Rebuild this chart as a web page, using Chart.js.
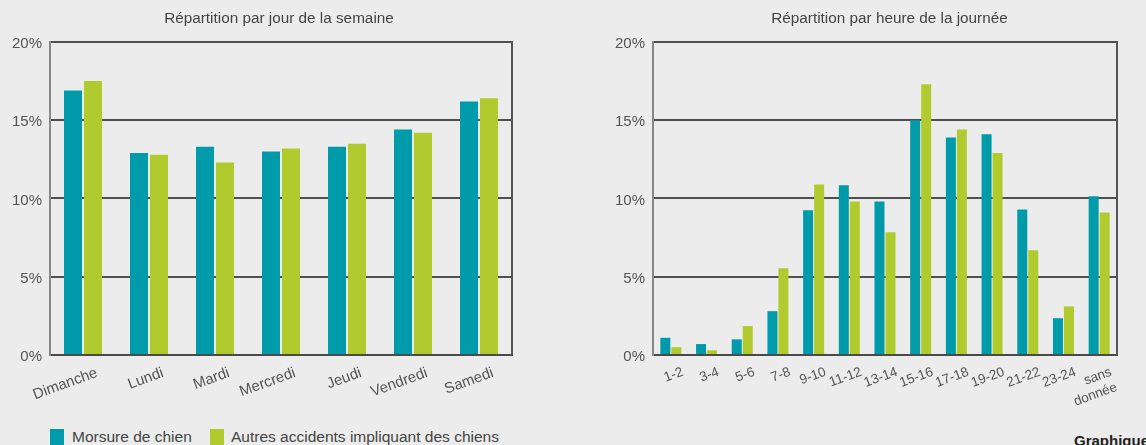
<!DOCTYPE html>
<html>
<head>
<meta charset="utf-8">
<script src="https://cdn.jsdelivr.net/npm/chart.js@4/dist/chart.umd.min.js"></script>
<style>
  html, body { margin: 0; padding: 0; }
  body {
    width: 1146px; height: 445px; overflow: hidden; position: relative;
    background: #ebeceb; font-family: "Liberation Sans", Arial, sans-serif;
  }
  canvas { position: absolute; top: 0; }
  #jours { left: 0px; }
  #heures { left: 600px; }
  .legend { position: absolute; top: 428px; font-size: 15.5px; color: #444; line-height: 18px; white-space: nowrap; }
  .box { position: absolute; top: 429px; width: 14px; height: 16px; }
  #graphique { position: absolute; left: 1074px; top: 432px; font-size: 15px; font-weight: bold; color: #222; white-space: nowrap; }
</style>
</head>
<body>
<canvas id="jours" width="558" height="420"></canvas>
<canvas id="heures" width="579" height="420"></canvas>

<div class="box" style="left:50px; background:#009bab"></div>
<div class="legend" style="left:72px">Morsure de chien</div>
<div class="box" style="left:210px; background:#b1cb2f"></div>
<div class="legend" style="left:231px">Autres accidents impliquant des chiens</div>
<div id="graphique">Graphique</div>

<script>
const TEAL = '#009bab';
const GREEN = '#b1cb2f';
const FONT = "'Liberation Sans', Arial, sans-serif";

// values in %
const jours = ['Dimanche', 'Lundi', 'Mardi', 'Mercredi', 'Jeudi', 'Vendredi', 'Samedi'];
const joursMorsure = [16.9, 12.9, 13.3, 13.0, 13.3, 14.4, 16.2];
const joursAutres = [17.5, 12.8, 12.3, 13.2, 13.5, 14.2, 16.4];

const heures = ['1-2', '3-4', '5-6', '7-8', '9-10', '11-12', '13-14', '15-16',
                '17-18', '19-20', '21-22', '23-24', ['sans', 'donnée']];
const heuresMorsure = [1.1, 0.7, 1.0, 2.8, 9.25, 10.85, 9.8, 15.0, 13.9, 14.1, 9.3, 2.35, 10.15];
const heuresAutres = [0.5, 0.3, 1.85, 5.55, 10.9, 9.8, 7.85, 17.3, 14.4, 12.9, 6.7, 3.1, 9.1];

const yTicks = [0, 5, 10, 15, 20];

function makeChart(canvasId, title, labels, morsure, autres, opts)
{
  return new Chart(document.getElementById(canvasId), {
    type: 'bar',
    data: {
      labels: labels,
      datasets: [
        { label: 'Morsure de chien', data: morsure, backgroundColor: TEAL, yAxisID: 'y',
          categoryPercentage: opts.catPct, barPercentage: opts.barPct },
        { label: 'Autres accidents impliquant des chiens', data: autres, backgroundColor: GREEN, yAxisID: 'y',
          categoryPercentage: opts.catPct, barPercentage: opts.barPct }
      ]
    },
    options: {
      responsive: false,
      animation: false,
      layout: { padding: 0 },
      plugins: {
        legend: { display: false },
        tooltip: { enabled: false },
        title: {
          display: true,
          text: title,
          color: '#444',
          font: { family: FONT, size: 15.3, weight: 'normal' },
          padding: { top: 10, bottom: 13.6 }
        }
      },
      scales: {
        x: {
          z: 1,
          grid: { display: false, drawTicks: false },
          border: { display: true, color: '#4a4a4a', width: 2 },
          ticks: {
            color: '#555',
            font: { family: FONT, size: opts.xFont },
            minRotation: 20, maxRotation: 20,
            autoSkip: false,
            padding: 9,
            labelOffset: opts.labelOffset
          },
          afterFit: function(scale) { scale.height = 65; }
        },
        y: {
          min: 0, max: 20,
          afterBuildTicks: function(scale) { scale.ticks = yTicks.map(v => ({ value: v })); },
          grid: { color: '#4f4f4f', lineWidth: 2, drawTicks: false },
          border: { display: true, color: '#888', width: 2 },
          ticks: {
            color: '#555',
            font: { family: FONT, size: 15 },
            padding: 8,
            labelOffset: 2,
            callback: v => v + '%'
          },
          afterFit: function(scale) { scale.width = opts.yWidth; }
        },
        y2: {
          position: 'right',
          grid: { display: false, drawTicks: false },
          border: { display: true, color: '#555', width: 2 },
          ticks: { display: false },
          afterFit: function(scale) { scale.width = opts.rightWidth; }
        }
      }
    }
  });
}

makeChart('jours', 'Répartition par jour de la semaine', jours, joursMorsure, joursAutres,
  { catPct: 0.606, barPct: 0.9, xFont: 15, labelOffset: 14, yWidth: 50, rightWidth: 46 });

makeChart('heures', 'Répartition par heure de la journée', heures, heuresMorsure, heuresAutres,
  { catPct: 0.616, barPct: 0.91, xFont: 13.5, labelOffset: 12, yWidth: 53, rightWidth: 62 });
</script>
</body>
</html>
